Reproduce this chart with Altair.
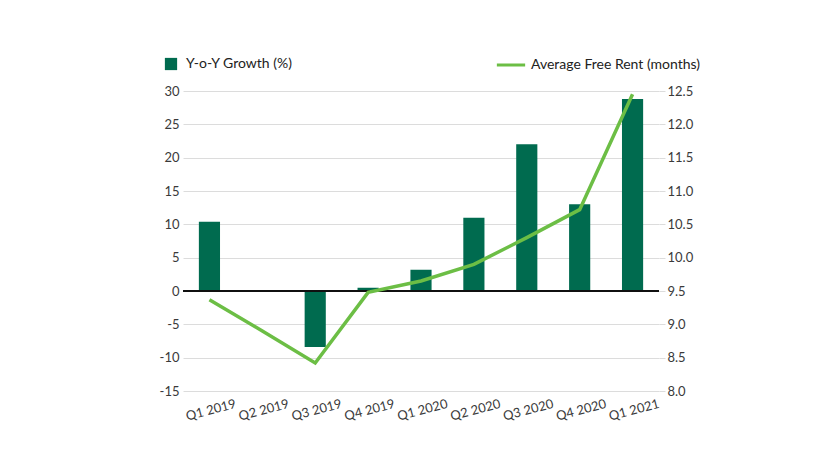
import altair as alt
import pandas as pd

quarters = ["Q1 2019", "Q2 2019", "Q3 2019", "Q4 2019", "Q1 2020",
            "Q2 2020", "Q3 2020", "Q4 2020", "Q1 2021"]
growth = [10.4, 0.0, -8.4, 0.5, 3.2, 11.0, 22.0, 13.0, 28.8]
free_rent = [9.37, 8.9, 8.42, 9.48, 9.65, 9.9, 10.3, 10.72, 12.45]
left_ticks = [-15, -10, -5, 0, 5, 10, 15, 20, 25, 30]
right_ticks = [8.0, 8.5, 9.0, 9.5, 10.0, 10.5, 11.0, 11.5, 12.0, 12.5]

BAR_NAME = "Y-o-Y Growth (%)"
LINE_NAME = "Average Free Rent (months)"

df = pd.DataFrame({
    "quarter": quarters,
    "growth": growth,
    "rent": free_rent,
    "bar_series": [BAR_NAME] * len(quarters),
    "line_series": [LINE_NAME] * len(quarters),
})

FONT = "Lato"
LABEL_COLOR = "#3a3a3a"
BAR_COLOR = "#006B4F"
LINE_COLOR = "#6CBE45"

x_enc = alt.X(
    "quarter:N", sort=quarters, title=None,
    scale=alt.Scale(paddingInner=0.6, paddingOuter=0.3),
    axis=alt.Axis(labelAngle=345, labelAlign="center", labelBaseline="top",
                  labelPadding=13, domain=False, ticks=False,
                  labelOverlap=False,
                  labelFontSize=13, labelColor=LABEL_COLOR, labelFont=FONT),
)

base = alt.Chart(df)

bars = base.mark_bar(color=BAR_COLOR).encode(
    x=x_enc,
    y=alt.Y("growth:Q", title=None,
            scale=alt.Scale(domain=[-15, 30], nice=False, zero=False),
            axis=alt.Axis(values=left_ticks, tickCount=len(left_ticks),
                          labelExpr="toString(datum.value)",
                          grid=True, gridColor="#dcdcdc", domain=False,
                          ticks=False, labelOverlap=False,
                          labelPadding=4, labelFontSize=13,
                          labelColor=LABEL_COLOR, labelFont=FONT)),
    color=alt.Color("bar_series:N", title=None,
                    scale=alt.Scale(range=[BAR_COLOR]),
                    legend=alt.Legend(orient="none", legendX=-19, legendY=-34,
                                      symbolType="square", symbolSize=150,
                                      symbolStrokeWidth=0, labelFontSize=14,
                                      labelFont=FONT, labelColor="#222",
                                      labelLimit=300,
                                      labelOffset=8, padding=0)),
)

zero_rule = base.mark_rule(color="#111111", strokeWidth=1.5).encode(
    y=alt.datum(0)
)

left_layer = alt.layer(bars, zero_rule)

line = base.mark_line(strokeWidth=3.5).encode(
    x=x_enc,
    y=alt.Y("rent:Q", title=None,
            scale=alt.Scale(domain=[8.0, 12.5], nice=False, zero=False),
            axis=alt.Axis(orient="right", values=right_ticks,
                          tickCount=len(right_ticks),
                          format=".1f", grid=False, domain=False, ticks=True,
                          labelOverlap=False,
                          tickColor="#dcdcdc", tickSize=6, labelPadding=2,
                          labelFontSize=13, labelColor=LABEL_COLOR,
                          labelFont=FONT)),
    stroke=alt.Stroke("line_series:N", title=None,
                      scale=alt.Scale(range=[LINE_COLOR]),
                      legend=alt.Legend(orient="none", legendX=312, legendY=-42,
                                        symbolType="stroke", symbolSize=800,
                                        symbolStrokeWidth=3, labelFontSize=14,
                                        labelFont=FONT, labelColor="#222",
                                        labelLimit=300,
                                        labelOffset=4, padding=0)),
)

chart = alt.layer(left_layer, line).resolve_scale(
    y="independent", color="independent", stroke="independent"
).properties(
    width=476, height=300,
    autosize=alt.AutoSizeParams(type="none"),
    padding={"left": 175, "top": 83, "right": 163, "bottom": 77},
    background="white",
).configure_view(stroke=None)

chart.save("out.html", embed_options={"renderer": "svg", "actions": False})
